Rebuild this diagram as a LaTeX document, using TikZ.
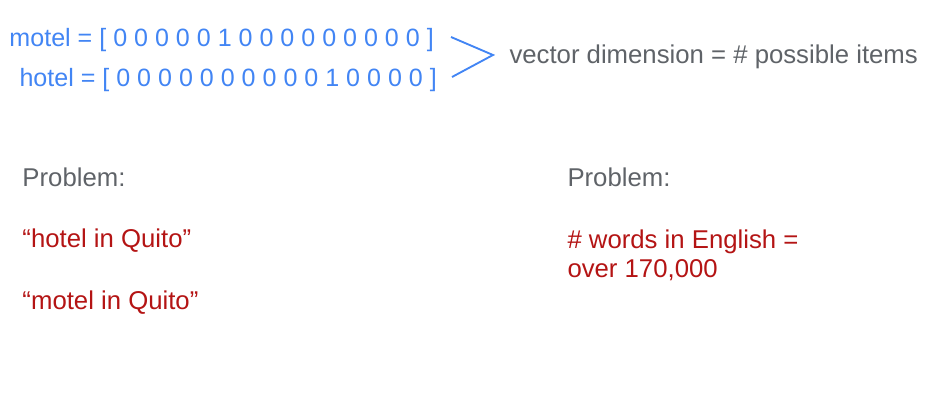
\documentclass[tikz,border=0pt]{standalone}
\usepackage{fontspec}
\setmainfont{Liberation Sans}
\definecolor{gblue}{RGB}{66,133,244}
\definecolor{ggray}{RGB}{95,99,104}
\definecolor{gred}{RGB}{180,20,20}
\tikzset{every picture/.style={line width=0.75pt}}
\tikzset{txt/.style={inner sep=0.75pt, font=\fontsize{19.3}{22}\selectfont},
  vec/.style={inner sep=0.75pt, color=gblue, font=\fontsize{18.8}{22}\selectfont}}
\begin{document}
\begin{tikzpicture}[x=0.75pt,y=0.75pt,yscale=-1,xscale=1]
\path[use as bounding box] (0,0) rectangle (947,413);

% Text Node
\draw (8,47) node [anchor=base west][vec] (motel) {motel = [ 0 0 0 0 0 1 0 0 0 0 0 0 0 0 0 ]};
% Text Node
\draw (18,87) node [anchor=base west][vec] (hotel) {hotel = [ 0 0 0 0 0 0 0 0 0 0 1 0 0 0 0 ]};
% Text Node
\draw (508,64) node [anchor=base west][txt, color=ggray] (dimension) {vector dimension = \# possible items};

%Chevron
\coordinate (chtop) at (451,37);
\coordinate (chtip) at (493,55);
\coordinate (chbot) at (452,77);
\draw [color=gblue, line width=1.4pt] (chtop) -- (chtip) -- (chbot) ;

% Text Node
\draw (21,187) node [anchor=base west][txt, color=ggray] (problemA) {Problem:};
% Text Node
\draw (21,248) node [anchor=base west][txt, color=gred] (hotelq) {“hotel in Quito”};
% Text Node
\draw (21,310) node [anchor=base west][txt, color=gred] (motelq) {“motel in Quito”};
% Text Node
\draw (566,187) node [anchor=base west][txt, color=ggray] (problemB) {Problem:};
% Text Node
\draw (566,249) node [anchor=base west][txt, color=gred] (words) {\# words in English =};
% Text Node
\draw (566,278) node [anchor=base west][txt, color=gred] (count) {over 170,000};

\end{tikzpicture}
\end{document}
